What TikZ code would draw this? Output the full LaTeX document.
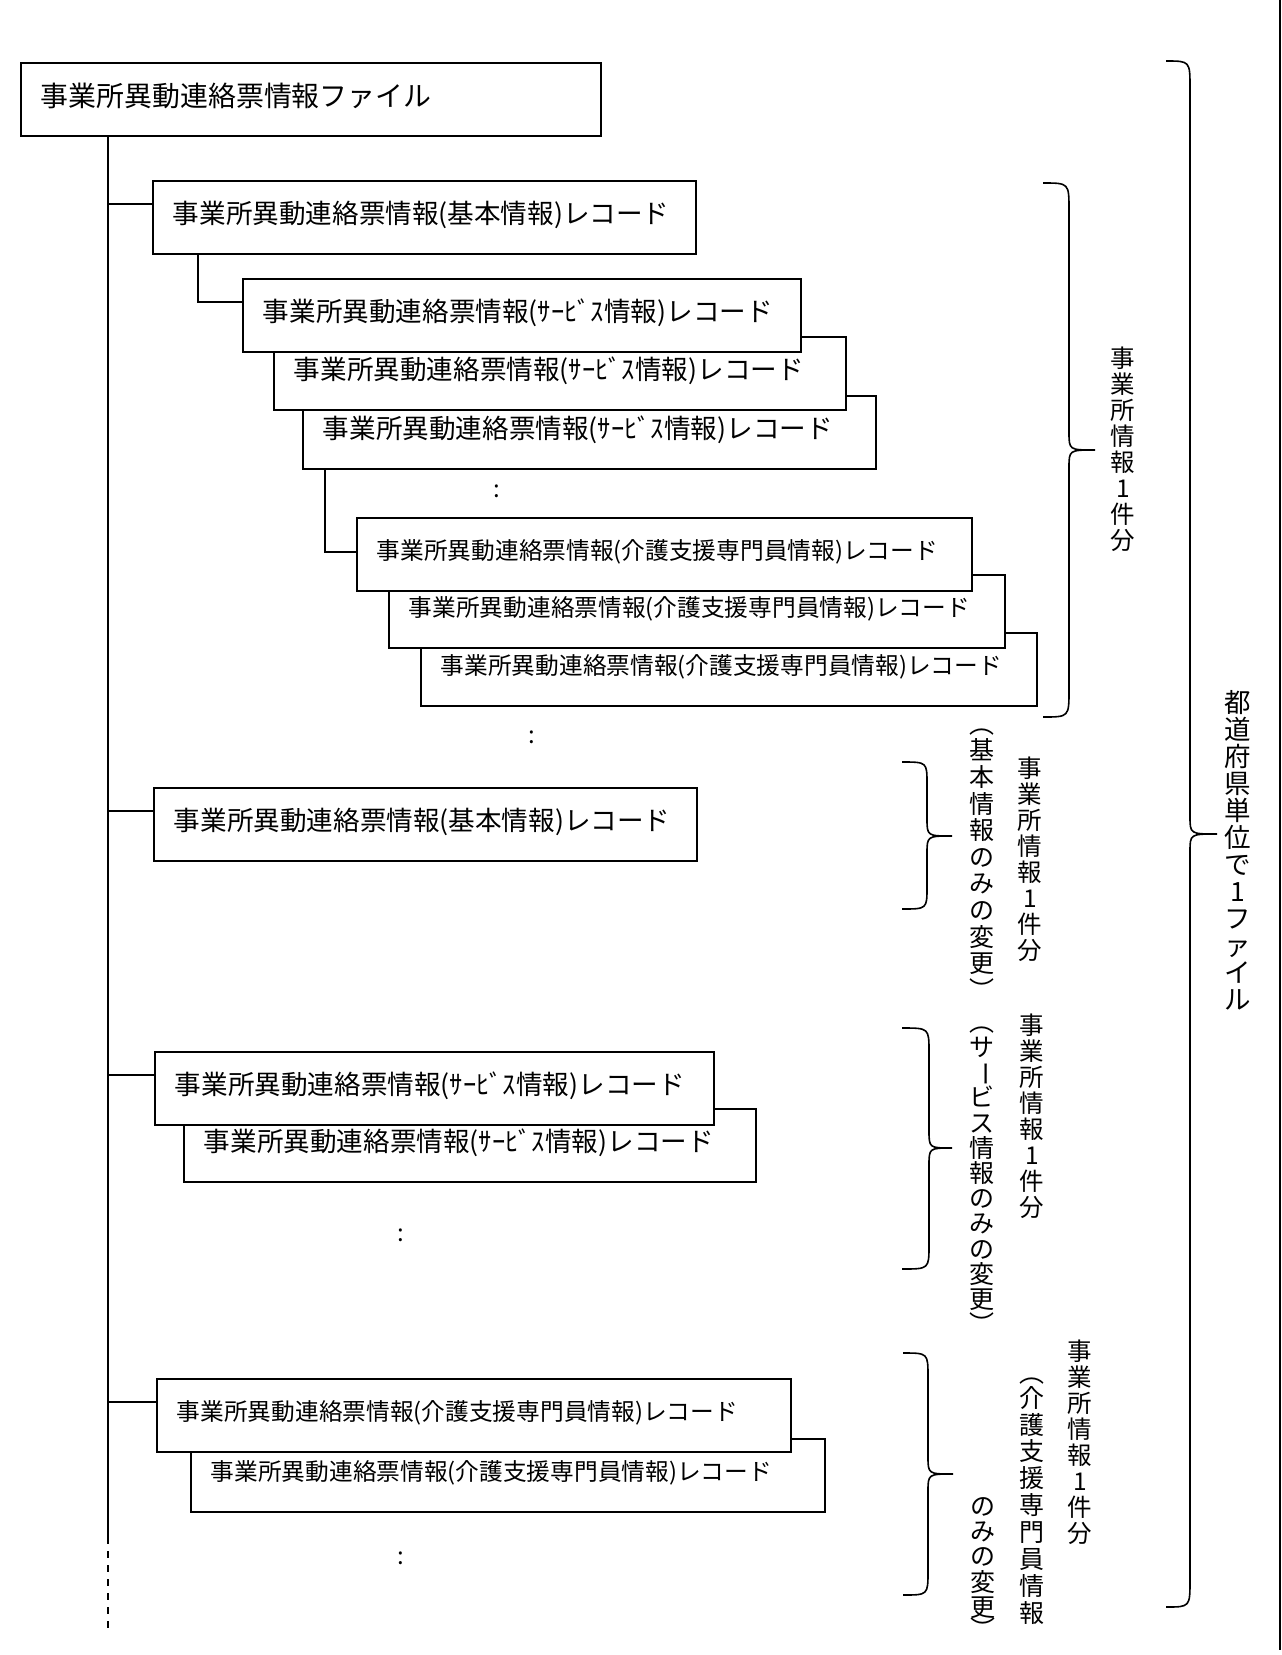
\documentclass[tikz,border=0pt]{standalone}
\usepackage{fontspec}
\usepackage{graphicx}
\newfontfamily\jp{Noto Sans CJK JP}
\newcommand\vbar{\raisebox{0.08em}[0.83em][0.07em]{\rotatebox[origin=c]{-90}{ー}}}
\newcommand\vlp{\rotatebox[origin=c]{-90}{（}}
\newcommand\vrp{\rotatebox[origin=c]{-90}{）}}
\newcommand\mybrace[7]{%
  \draw[ln] (#1,#4) .. controls (#2,#4) and (#2,#4) .. (#2,#4+#7)
    -- (#2,#5-18) .. controls (#2,#5) and (#2,#5) .. (#3,#5)
    .. controls (#2,#5) and (#2,#5) .. (#2,#5+18)
    -- (#2,#6-#7) .. controls (#2,#6) and (#2,#6) .. (#1,#6);}
\tikzset{
  ln/.style={line width=1.6pt, line cap=butt},
  rec/.style={draw, ln, fill=white, anchor=north west, inner xsep=20pt, inner ysep=0pt,
    minimum height=73pt, align=left},
  fb/.style={font=\jp\fontsize{26.6}{30}\selectfont, text height=23pt, text depth=10pt},
  fk/.style={font=\jp\fontsize{23.7}{28}\selectfont, text height=21pt, text depth=10pt},
  ft/.style={font=\jp\fontsize{27.9}{32}\selectfont, text height=24pt, text depth=10pt},
  dots/.style={font=\jp\fontsize{24}{28}\selectfont, inner sep=0pt},
  vlab/.style={anchor=north, inner sep=0pt, align=center, font=\jp\fontsize{24.5}{25.9}\selectfont},
  vpar/.style={anchor=north, inner sep=0pt, align=center, font=\jp\fontsize{25}{26.6}\selectfont},
  vbig/.style={anchor=north, inner sep=0pt, align=center, font=\jp\fontsize{26.5}{27}\selectfont},
}
\begin{document}
\begin{tikzpicture}[x=1pt,y=-1pt]
\fill[white] (0,0) rectangle (1282,1655);
\useasboundingbox (0,0) rectangle (1282,1655);

% top box
\node[rec, ft, text width=540pt] (top) at (20,62) {事業所異動連絡票情報ファイル};

% group 1
\node[rec, fb, text width=503pt] (B1) at (152,180) {事業所異動連絡票情報(基本情報)レコード};
\node[rec, fb, text width=533pt] (S3) at (302,395) {事業所異動連絡票情報(ｻｰﾋﾞｽ情報)レコード};
\node[rec, fb, text width=532pt] (S2) at (273,336) {事業所異動連絡票情報(ｻｰﾋﾞｽ情報)レコード};
\node[rec, fb, text width=518pt] (S1) at (242,278) {事業所異動連絡票情報(ｻｰﾋﾞｽ情報)レコード};
\node[dots] (d1) at (497,491) {:};
\node[rec, fk, text width=576pt] (K3) at (420,632) {事業所異動連絡票情報(介護支援専門員情報)レコード};
\node[rec, fk, text width=576pt] (K2) at (388,574) {事業所異動連絡票情報(介護支援専門員情報)レコード};
\node[rec, fk, text width=575pt] (K1) at (356,517) {事業所異動連絡票情報(介護支援専門員情報)レコード};
\node[dots] (d2) at (532,737) {:};

% group 2
\node[rec, fb, text width=503pt] (B2) at (153,787) {事業所異動連絡票情報(基本情報)レコード};

% group 3
\node[rec, fb, text width=532pt] (S5) at (183,1108) {事業所異動連絡票情報(ｻｰﾋﾞｽ情報)レコード};
\node[rec, fb, text width=519pt] (S4) at (154,1051) {事業所異動連絡票情報(ｻｰﾋﾞｽ情報)レコード};
\node[dots] (d3) at (401,1235) {:};

% group 4
\node[rec, fk, text width=594pt] (K5) at (190,1438) {事業所異動連絡票情報(介護支援専門員情報)レコード};
\node[rec, fk, text width=594pt] (K4) at (156,1378) {事業所異動連絡票情報(介護支援専門員情報)レコード};
\node[dots] (d4) at (401,1558) {:};

% trunk
\coordinate (tA) at (108,1537);
\coordinate (tB) at (108,1628);
\draw[ln] ([xshift=88pt]top.south west) -- (tA);
\draw[ln, dash pattern=on 7pt off 7pt] (tA) -- (tB);
\foreach \b in {B1,B2,S4,K4}{
  \path ([yshift=-24pt]\b.north west) coordinate (\b c);
  \draw[ln] (\b c) -- (\b c -| tA);
}
\draw[ln] ([xshift=46pt]B1.south west) |- ([yshift=-24pt]S1.north west);
\draw[ln] ([xshift=23pt]S3.south west) |- ([yshift=-35pt]K1.north west);

% braces
\mybrace{1043}{1069}{1095}{183}{450}{717}{27}
\mybrace{902}{927}{952}{762}{836}{909}{22}
\mybrace{902}{929}{952}{1028}{1148}{1269}{24}
\mybrace{903}{928}{953}{1353}{1474}{1595}{24}
\mybrace{1166}{1190}{1217}{61}{834}{1607}{27}

% right edge line
\draw[ln] (1280,0) -- (1280,1650);

% vertical labels
\node[vlab] (L1) at (1123,347) {事\\業\\所\\情\\報\\1\\件\\分};
\node[vpar] (L2) at (982,711) {\vlp\\基\\本\\情\\報\\の\\み\\の\\変\\更\\\vrp};
\node[vlab] (L3) at (1030,757) {事\\業\\所\\情\\報\\1\\件\\分};
\node[vpar, font=\jp\fontsize{25}{25.2}\selectfont] (L4) at (982,1009) {\vlp\\サ\\\vbar\\ビ\\ス\\情\\報\\の\\み\\の\\変\\更\\\vrp};
\node[vlab] (L5) at (1032,1014) {事\\業\\所\\情\\報\\1\\件\\分};
\node[vpar, font=\jp\fontsize{25}{26.9}\selectfont] (L6) at (1032,1360) {\vlp\\[-2pt]介\\護\\支\\援\\専\\門\\員\\情\\報};
\node[vpar, font=\jp\fontsize{25}{25.3}\selectfont] (L7) at (983,1497) {の\\み\\の\\変\\更\\[-3pt]\vrp};
\node[vlab] (L8) at (1080,1340) {事\\業\\所\\情\\報\\1\\件\\分};
\node[vbig] (L9) at (1238,690) {都\\道\\府\\県\\単\\位\\で\\1\\フ\\ァ\\イ\\ル};
\end{tikzpicture}
\end{document}
